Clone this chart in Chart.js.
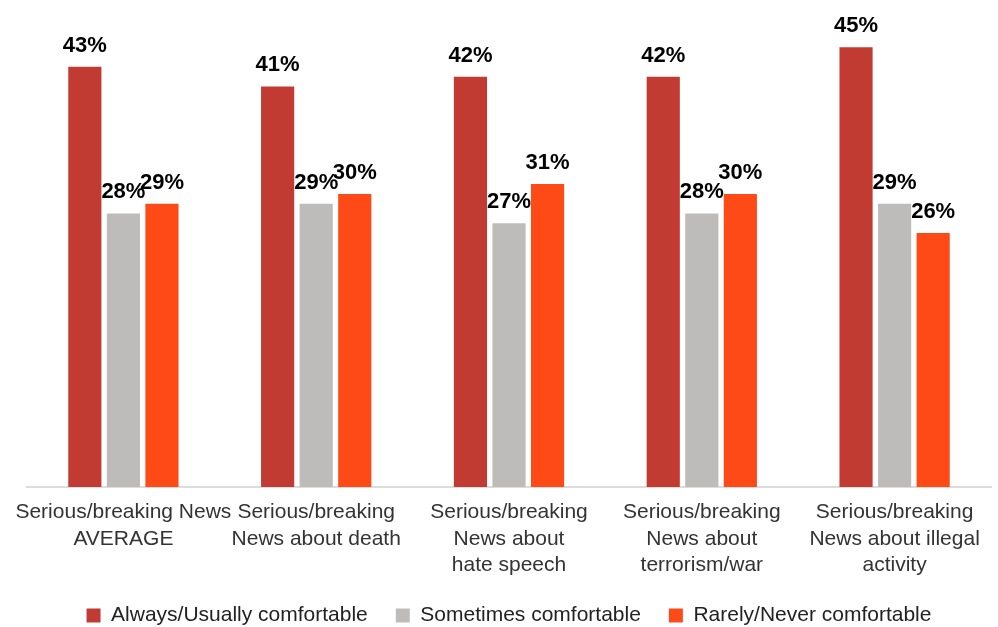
<!DOCTYPE html>
<html>
<head>
<meta charset="utf-8">
<script src="https://cdn.jsdelivr.net/npm/chart.js@4"></script>
<style>
  html, body { margin: 0; padding: 0; background: #fff; }
  #wrap { width: 998px; height: 627px; position: relative; }
</style>
</head>
<body>
<div id="wrap"><canvas id="chart1"></canvas></div>
<script>
let categories = [
  ["Serious/breaking News", "AVERAGE"],
  ["Serious/breaking", "News about death"],
  ["Serious/breaking", "News about", "hate speech"],
  ["Serious/breaking", "News about", "terrorism/war"],
  ["Serious/breaking", "News about illegal", "activity"]
];
let seriesNames = ["Always/Usually comfortable", "Sometimes comfortable", "Rarely/Never comfortable"];
let alwaysValues = [43, 41, 42, 42, 45];
let sometimesValues = [28, 29, 27, 28, 29];
let rarelyValues = [29, 30, 31, 30, 26];
let barColors = ["#C23B33", "#BDBCBA", "#FE4A16"];

const FONT = "'Liberation Sans', Arial, sans-serif";

// writes the percentage above each bar
const valueLabels = {
  id: 'valueLabels',
  afterDatasetsDraw(chart) {
    const ctx = chart.ctx;
    ctx.save();
    ctx.font = "bold 22px " + FONT;
    ctx.fillStyle = "#000";
    ctx.textAlign = "center";
    ctx.textBaseline = "alphabetic";
    chart.data.datasets.forEach((ds, i) => {
      chart.getDatasetMeta(i).data.forEach((bar, j) => {
        ctx.fillText(ds.data[j] + "%", bar.x, bar.y - 15);
      });
    });
    ctx.restore();
  }
};

new Chart("chart1", {
  type: "bar",
  data: {
    labels: categories,
    datasets: [
      { label: seriesNames[0], data: alwaysValues, backgroundColor: barColors[0] },
      { label: seriesNames[1], data: sometimesValues, backgroundColor: barColors[1] },
      { label: seriesNames[2], data: rarelyValues, backgroundColor: barColors[2] }
    ]
  },
  options: {
    responsive: true,
    maintainAspectRatio: false,
    animation: false,
    categoryPercentage: 0.6,
    barPercentage: 0.86,
    layout: { padding: { top: 18, left: 27, right: 7, bottom: -9 } },
    scales: {
      x: {
        grid: { display: false, drawTicks: false },
        border: { display: true, color: "#DCDCDC", width: 2 },
        ticks: {
          color: "#333",
          font: { family: FONT, size: 21, lineHeight: 1.27 },
          maxRotation: 0,
          autoSkip: false,
          padding: 12
        },
        afterFit(scale) { scale.height = 90; }
      },
      y: {
        display: false,
        min: 0,
        max: 48
      }
    },
    plugins: {
      legend: {
        position: "bottom",
        labels: {
          boxWidth: 14,
          boxHeight: 14,
          padding: 28,
          color: "#222",
          font: { family: FONT, size: 21 }
        }
      },
      tooltip: { enabled: false }
    }
  },
  plugins: [valueLabels]
});
</script>
</body>
</html>
